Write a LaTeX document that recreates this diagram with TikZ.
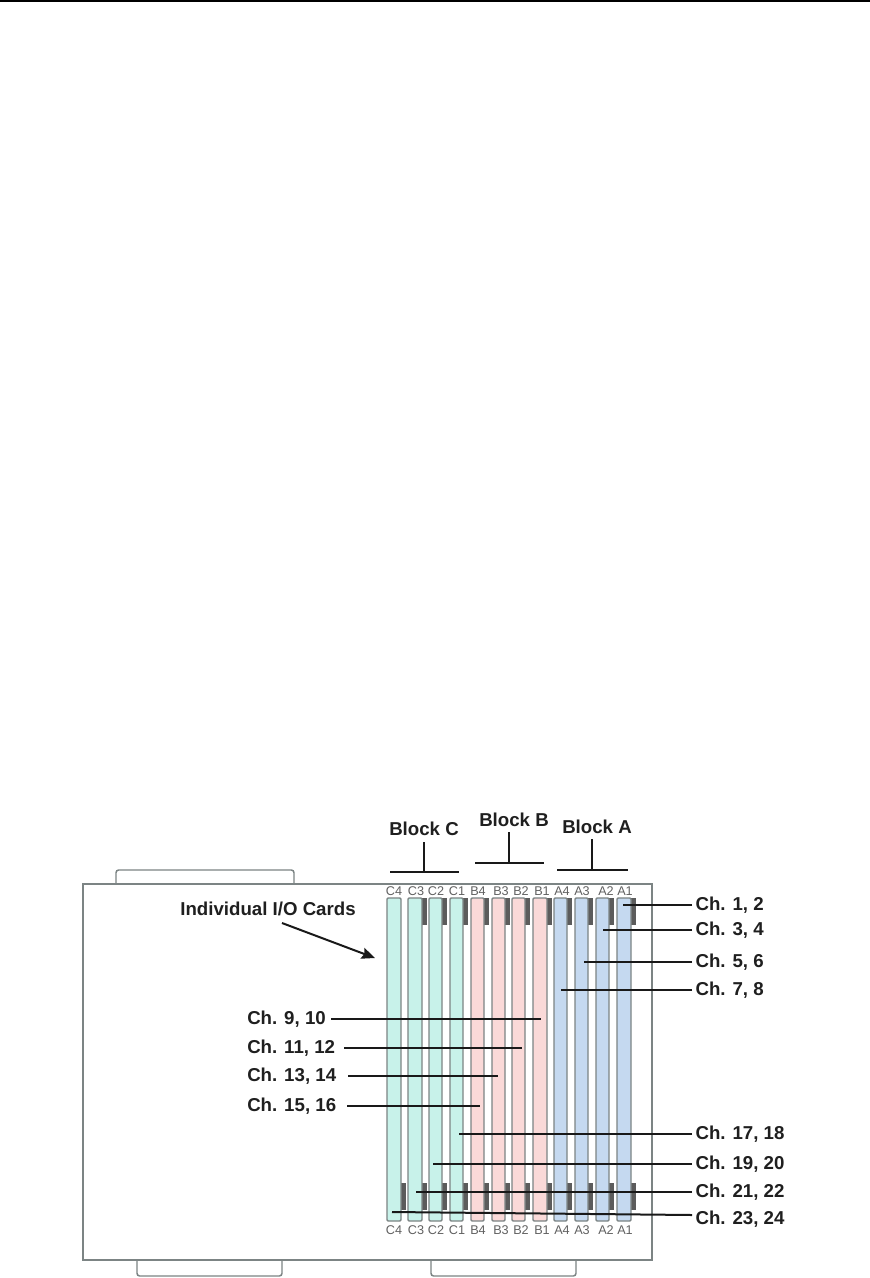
\documentclass[tikz,border=0pt]{standalone}
\usepackage{fontspec}
\setmainfont{Liberation Sans}
\usetikzlibrary{arrows.meta}
\definecolor{tealcard}{HTML}{C8F2EA}
\definecolor{pinkcard}{HTML}{FAD9D8}
\definecolor{bluecard}{HTML}{C5D9F0}
\definecolor{edgegray}{HTML}{7C8484}
\definecolor{tabgray}{HTML}{5C5C5C}
\tikzset{
  outline/.style={draw=edgegray,line width=1.1pt},
  cardbox/.style={draw=edgegray,line width=1.1pt,inner sep=0pt,rounded corners=0.8pt,minimum height=242.25pt},
  tabbar/.style={fill=tabgray,draw=none},
  slot/.style={font=\fontsize{9.5}{11}\selectfont,text=black!62,inner sep=0pt},
  chlabel/.style={font=\bfseries\fontsize{14}{16}\selectfont,text=black!88,inner sep=2.5pt},
  blocklabel/.style={font=\bfseries\fontsize{14}{16}\selectfont,text=black!88,inner sep=0pt},
  lead/.style={draw=black!90,line width=1.5pt},
}
\begin{document}
\begin{tikzpicture}[x=0.75pt,y=-0.75pt]
\useasboundingbox[fill=white] (0,0) rectangle (870,1278);
\coordinate (headL) at (0,1); \coordinate (headR) at (870,1);
\draw[black,line width=1.5pt] (headL) -- (headR);
% connector tabs and chassis
\draw[outline,rounded corners=2pt] (116,884) -- (116,870) -- (294,870) -- (294,884);
\draw[outline,rounded corners=2pt] (137,1260) -- (137,1276) -- (282,1276) -- (282,1260);
\draw[outline,rounded corners=2pt] (431,1260) -- (431,1276) -- (576,1276) -- (576,1260);
\draw[outline,fill=white] (83,884) rectangle (652,1260);
% cards: left/right edge, top label x, bottom label x, name, colour
\foreach \cl/\cr/\tx/\bx/\nm/\col/\toptab in {
  387/401/394/394/C4/tealcard/0,
  408/422/416/416/C3/tealcard/1,
  429/442/436/436/C2/tealcard/1,
  450/463/457/457/C1/tealcard/1,
  471/484/478/478/B4/pinkcard/1,
  492/505/501/501/B3/pinkcard/1,
  512/525/521/521/B2/pinkcard/1,
  533/547/542/542/B1/pinkcard/1,
  554/567/562/562/A4/bluecard/1,
  575/588/582/582/A3/bluecard/1,
  596/609/606/606/A2/bluecard/1,
  617/631/625/625/A1/bluecard/1}{
  \pgfmathsetmacro{\cardx}{(\cl+\cr)/2}
  \pgfmathsetmacro{\cardw}{(\cr-\cl)*0.75}
  \ifnum\toptab=1
    \fill[tabbar] (\cr,898) rectangle (\cr+4.6,925);
  \fi
  \fill[tabbar] (\cr,1183) rectangle (\cr+4.8,1210);
  \node[cardbox,fill=\col,minimum width=\cardw pt] (card\nm) at (\cardx,1059.5) {};
  \node[slot] (top\nm) at (\tx,891) {\nm};
  \node[slot] (bot\nm) at (\bx,1230) {\nm};
}
% block brackets
\node[blocklabel] (blockC) at (424,829) {Block C};
\node[blocklabel] (blockB) at (514,820) {Block B};
\node[blocklabel] (blockA) at (597,827) {Block A};
\foreach \bn/\ba/\bb/\bm/\by/\bt in {C/390/459/424/872/842, B/475/544/509/863/832, A/557/628/592/870/839}{
  \coordinate (br\bn l) at (\ba,\by);
  \coordinate (br\bn r) at (\bb,\by);
  \coordinate (br\bn m) at (\bm,\by);
  \coordinate (br\bn t) at (\bm,\bt);
  \draw[lead] (br\bn l) -- (br\bn r);
  \draw[lead] (br\bn t) -- (br\bn m);
}
% individual cards callout
\node[blocklabel] (cards) at (268,909) {Individual I/O Cards};
\coordinate (cardsFrom) at (282,923);
\coordinate (cardsTo) at (375,958);
\draw[lead,-{Stealth[length=10pt,width=8.5pt,inset=1.5pt]}] (cardsFrom) -- (cardsTo);
% channel labels on the right
\foreach \nm/\txt/\yy/\xx in {
  a/{Ch. 1, 2}/905/623, b/{Ch. 3, 4}/930/603, c/{Ch. 5, 6}/962/584, d/{Ch. 7, 8}/990/561,
  i/{Ch. 17, 18}/1134/459, j/{Ch. 19, 20}/1164/433, k/{Ch. 21, 22}/1192/416}{
  \node[chlabel,anchor=west] (ch\nm) at (692,\yy) {\txt};
  \coordinate (end\nm) at (\xx,\yy);
  \draw[lead] (ch\nm.west) -- (end\nm);
}
\node[chlabel,anchor=west] (chl) at (692,1219.5) {Ch. 23, 24};
\coordinate (endl) at (392,1212);
\coordinate (chlIn) at (692,1215);
\draw[lead] (chlIn) -- (endl);
% channel labels on the left
\foreach \nm/\txt/\yy/\xx/\ss in {
  e/{Ch. 9, 10}/1019/541/331, f/{Ch. 11, 12}/1048/522/344,
  g/{Ch. 13, 14}/1076/498/348, h/{Ch. 15, 16}/1106/480/347}{
  \node[chlabel,anchor=west,inner sep=0pt] (ch\nm) at (247,\yy) {\txt};
  \coordinate (start\nm) at (\ss,\yy);
  \coordinate (end\nm) at (\xx,\yy);
  \draw[lead] (start\nm) -- (end\nm);
}
\end{tikzpicture}
\end{document}
